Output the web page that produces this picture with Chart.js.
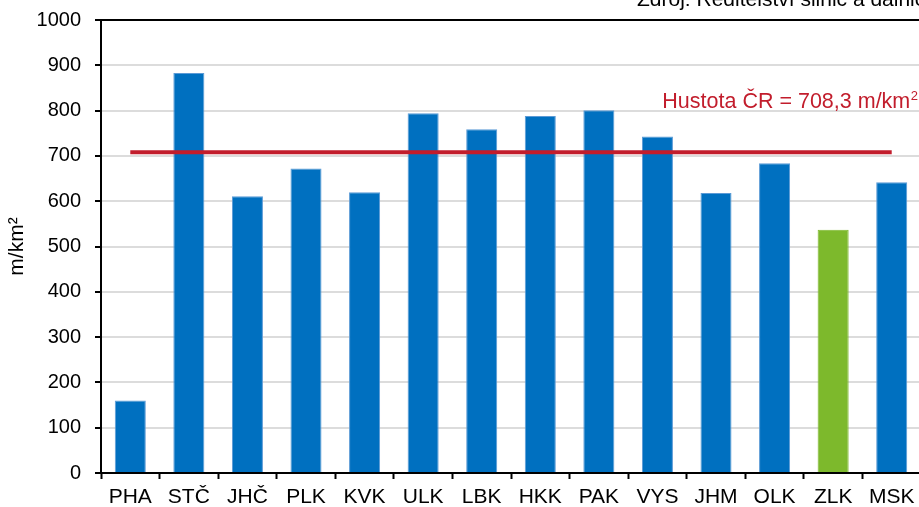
<!DOCTYPE html>
<html>
<head>
<meta charset="utf-8">
<script src="https://cdn.jsdelivr.net/npm/chart.js@4/dist/chart.umd.min.js"></script>
<style>
html,body{margin:0;padding:0;background:#fff;overflow:hidden;}
#wrap{width:919px;height:507px;overflow:hidden;position:relative;}
canvas{display:block;}
</style>
</head>
<body>
<div id="wrap"><canvas id="c" width="921" height="507"></canvas></div>
<script>
const categories = ['PHA','STČ','JHČ','PLK','KVK','ULK','LBK','HKK','PAK','VYS','JHM','OLK','ZLK','MSK'];
const densities = [160, 883, 611, 672, 620, 794, 759, 788, 801, 743, 618, 684, 537, 642];
const nationalAverage = 708.3;
const highlighted = 'ZLK';
const yTicks = [0,100,200,300,400,500,600,700,800,900,1000];
const avgLabel = 'Hustota ČR = 708,3 m/km';
const sourceLabel = 'Zdroj: Ředitelství silnic a dálnic';
const yTitle = 'm/km²';

const FONT = '"Liberation Sans", Arial, sans-serif';
const BLUE = '#0070c0', GREEN = '#7db92c', RED = '#c21d2c';

const textPlugin = {
  id: 'texts',
  afterDraw(chart) {
    const c = chart.ctx;
    c.save();
    c.textBaseline = 'alphabetic';
    c.font = '13px ' + FONT;
    const supW = c.measureText('2').width;
    c.fillStyle = RED;
    c.textAlign = 'right';
    c.fillText('2', 918, 100);
    c.font = '21.5px ' + FONT;
    c.fillText(avgLabel, 918 - supW - 0.5, 108);
    c.fillStyle = '#000';
    c.textAlign = 'left';
    c.font = '21px ' + FONT;
    c.fillText(sourceLabel, 637, 6);
    c.restore();
  }
};

new Chart(document.getElementById('c'), {
  data: {
    labels: categories,
    datasets: [
      {
        type: 'line',
        data: categories.map(() => nationalAverage),
        borderColor: RED,
        borderWidth: 4,
        pointRadius: 0,
        fill: false,
        order: 0
      },
      {
        type: 'bar',
        data: densities,
        backgroundColor: categories.map(c => c === highlighted ? GREEN : BLUE),
        borderColor: categories.map(c => c === highlighted ? GREEN : '#5b9ad6'),
        borderWidth: 1,
        barPercentage: 0.53,
        categoryPercentage: 1,
        order: 1
      }
    ]
  },
  options: {
    responsive: false,
    animation: false,
    devicePixelRatio: 1,
    layout: { padding: { top: 20, right: 0, left: 0, bottom: 0 } },
    plugins: { legend: { display: false }, tooltip: { enabled: false } },
    scales: {
      x: {
        offset: true,
        grid: { display: true, drawOnChartArea: false, drawTicks: true, tickLength: 6, tickColor: '#000', tickWidth: 2, offset: true },
        border: { display: true, color: '#000', width: 2 },
        ticks: { color: '#000', font: { family: FONT, size: 21 }, padding: 6, maxRotation: 0, autoSkip: false },
        afterFit(s) { s.height = 34; s.paddingLeft = 0; s.paddingRight = 0; }
      },
      y: {
        min: 0, max: 1000,
        afterBuildTicks(s) { s.ticks = yTicks.map(v => ({ value: v })); },
        grid: {
          color: ctx => (ctx.tick && ctx.tick.value === 1000) ? '#000' : '#dcdcdc',
          lineWidth: 2,
          drawTicks: true, tickLength: 6, tickColor: '#000', tickWidth: 2
        },
        border: { display: true, color: '#000', width: 2 },
        ticks: { color: '#000', font: { family: FONT, size: 20 }, padding: 14, callback: v => String(v) },
        title: { display: true, text: yTitle, color: '#000', font: { family: FONT, size: 21 }, padding: { top: 5, bottom: 0 } },
        afterFit(s) { s.width = 101; s.paddingTop = 0; s.paddingBottom = 0; }
      }
    }
  },
  plugins: [textPlugin]
});
</script>
</body>
</html>
